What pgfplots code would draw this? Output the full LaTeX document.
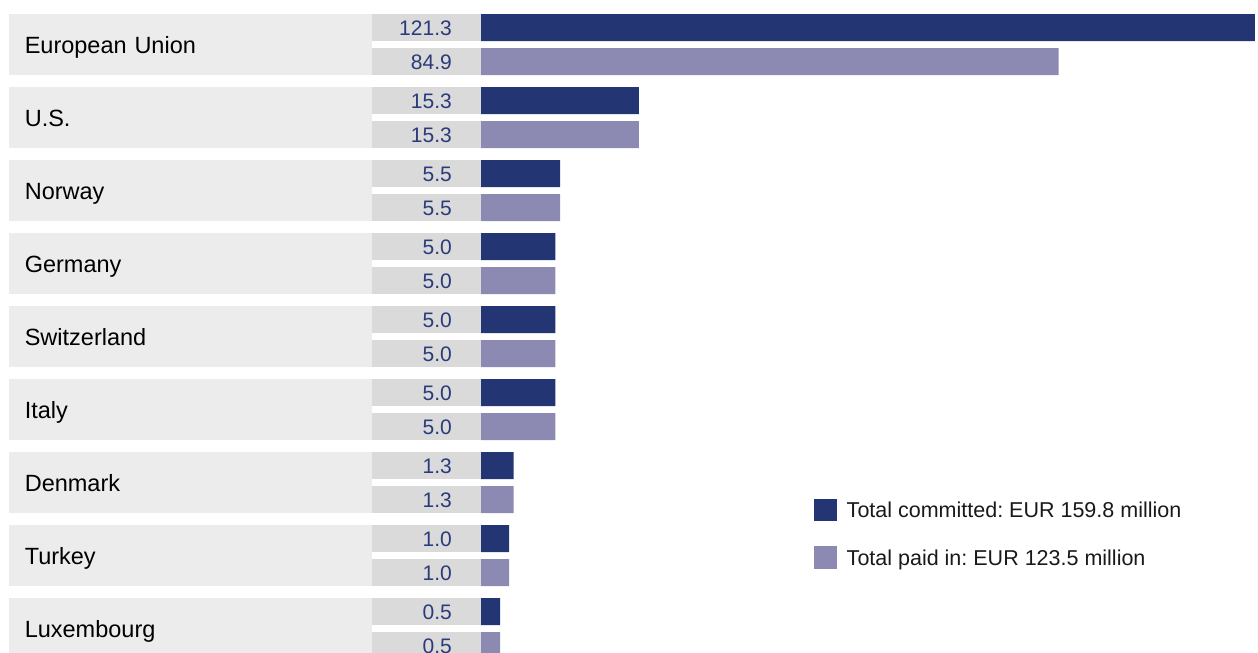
\documentclass[border=0pt]{standalone}
\usepackage{pgfplots}
\pgfplotsset{compat=1.18}
\usepackage{pgfplotstable}
\usepackage{fontspec}
\setmainfont{Liberation Sans}
\frenchspacing
\definecolor{navy}{HTML}{233572}
\definecolor{lav}{HTML}{8C8AB2}
\definecolor{boxgray}{HTML}{ECECEC}
\definecolor{valgray}{HTML}{DADADA}
\definecolor{valtext}{HTML}{2A3A7A}
\pgfplotstableread{
i committed paid
0 121.3 84.9
1 15.3 15.3
2 5.5 5.5
3 5.0 5.0
4 5.0 5.0
5 5.0 5.0
6 1.3 1.3
7 1.0 1.0
8 0.5 0.5
}\data
\begin{document}
\begin{tikzpicture}
\path[use as bounding box] (0pt,0pt) rectangle (1258pt,-653pt);
\begin{axis}[
  at={(481pt,0pt)}, anchor=north west,
  width=777pt, height=653pt, scale only axis,
  xmin=0, xmax=121.9, ymin=-0.6096, ymax=8.3356, y dir=reverse,
  x coord trafo/.code={\pgfmathparse{4.21*(#1)+23.9*sqrt(abs(#1))}},
  xtick=\empty,
  ytick={0,...,8},
  yticklabels={European Union,U.S.,Norway,Germany,Switzerland,Italy,Denmark,Turkey,Luxembourg},
  axis line style={draw=none}, major tick length=0pt,
  yticklabel style={anchor=east, xshift=-109pt, fill=boxgray, inner xsep=16pt, inner ysep=0pt,
    text width=331pt, align=left, minimum height=61pt, text height=17pt, text depth=0pt,
    font=\fontsize{23.5}{28}\selectfont, text=black},
  clip=false,
  legend style={at={(axis description cs:0.4286,0.2369)}, anchor=north west, draw=none, fill=none,
    inner sep=0pt, row sep=25.2pt, font=\fontsize{21.5}{26}\selectfont,
    nodes={inner sep=0pt, text height=15.4pt, text depth=0pt, text=black!90},
    /tikz/every odd column/.append style={column sep=10pt}},
  legend cell align=left,
]
\addplot[xbar, bar width=0.37, bar shift=0pt, fill=navy, draw=none,
  legend image code/.code={\fill[navy] (0pt,-11.25pt) rectangle (22.5pt,11.25pt);}]
  table[x=committed, y expr=\thisrow{i}-0.2329] {\data};
\addlegendentry{Total committed: EUR 159.8 million}
\addplot[xbar, bar width=0.37, bar shift=0pt, fill=lav, draw=none,
  legend image code/.code={\fill[lav] (0pt,-11.25pt) rectangle (22.5pt,11.25pt);}]
  table[x=paid, y expr=\thisrow{i}+0.2329] {\data};
\addlegendentry{Total paid in: EUR 123.5 million}
\addplot[forget plot, draw=none, mark=none, point meta=explicit symbolic,
  nodes near coords={\makebox[109pt][r]{\pgfplotspointmeta\kern29pt}},
  nodes near coords style={anchor=east, fill=valgray, inner sep=0pt, minimum height=27pt,
    text height=15pt, text depth=0pt, font=\fontsize{21}{25}\selectfont, text=valtext}]
  table[x expr=0, y expr=\thisrow{i}-0.2329, meta=committed] {\data};
\addplot[forget plot, draw=none, mark=none, point meta=explicit symbolic,
  nodes near coords={\makebox[109pt][r]{\pgfplotspointmeta\kern29pt}},
  nodes near coords style={anchor=east, fill=valgray, inner sep=0pt, minimum height=27pt,
    text height=15pt, text depth=0pt, font=\fontsize{21}{25}\selectfont, text=valtext}]
  table[x expr=0, y expr=\thisrow{i}+0.2329, meta=paid] {\data};
\end{axis}
\end{tikzpicture}
\end{document}
